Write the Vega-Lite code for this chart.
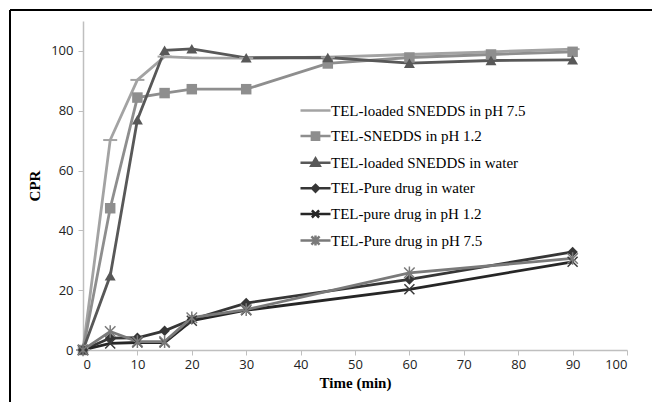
{
  "$schema": "https://vega.github.io/schema/vega-lite/v6.json",
  "autosize": "none",
  "width": 544,
  "height": 329,
  "padding": {"left": 83, "top": 21, "right": 25, "bottom": 52},
  "background": "white",
  "config": {"view": {"stroke": null}},
  "data": {"values": [
    {"series": "TEL-loaded SNEDDS in pH 7.5", "t": 0, "v": 0},
    {"series": "TEL-loaded SNEDDS in pH 7.5", "t": 5, "v": 70.2},
    {"series": "TEL-loaded SNEDDS in pH 7.5", "t": 10, "v": 90.3},
    {"series": "TEL-loaded SNEDDS in pH 7.5", "t": 15, "v": 98.1},
    {"series": "TEL-loaded SNEDDS in pH 7.5", "t": 20, "v": 97.7},
    {"series": "TEL-loaded SNEDDS in pH 7.5", "t": 30, "v": 97.6},
    {"series": "TEL-loaded SNEDDS in pH 7.5", "t": 45, "v": 97.9},
    {"series": "TEL-loaded SNEDDS in pH 7.5", "t": 60, "v": 98.8},
    {"series": "TEL-loaded SNEDDS in pH 7.5", "t": 75, "v": 99.7},
    {"series": "TEL-loaded SNEDDS in pH 7.5", "t": 90, "v": 100.6},
    {"series": "TEL-SNEDDS in pH 1.2", "t": 0, "v": 0},
    {"series": "TEL-SNEDDS in pH 1.2", "t": 5, "v": 47.4},
    {"series": "TEL-SNEDDS in pH 1.2", "t": 10, "v": 84.4},
    {"series": "TEL-SNEDDS in pH 1.2", "t": 15, "v": 85.9},
    {"series": "TEL-SNEDDS in pH 1.2", "t": 20, "v": 87.2},
    {"series": "TEL-SNEDDS in pH 1.2", "t": 30, "v": 87.2},
    {"series": "TEL-SNEDDS in pH 1.2", "t": 45, "v": 95.8},
    {"series": "TEL-SNEDDS in pH 1.2", "t": 60, "v": 97.8},
    {"series": "TEL-SNEDDS in pH 1.2", "t": 75, "v": 98.8},
    {"series": "TEL-SNEDDS in pH 1.2", "t": 90, "v": 99.7},
    {"series": "TEL-loaded SNEDDS in water", "t": 0, "v": 0},
    {"series": "TEL-loaded SNEDDS in water", "t": 5, "v": 24.8},
    {"series": "TEL-loaded SNEDDS in water", "t": 10, "v": 77},
    {"series": "TEL-loaded SNEDDS in water", "t": 15, "v": 100.2},
    {"series": "TEL-loaded SNEDDS in water", "t": 20, "v": 100.7},
    {"series": "TEL-loaded SNEDDS in water", "t": 30, "v": 97.7},
    {"series": "TEL-loaded SNEDDS in water", "t": 45, "v": 97.8},
    {"series": "TEL-loaded SNEDDS in water", "t": 60, "v": 95.9},
    {"series": "TEL-loaded SNEDDS in water", "t": 75, "v": 96.8},
    {"series": "TEL-loaded SNEDDS in water", "t": 90, "v": 97},
    {"series": "TEL-Pure drug in water", "t": 0, "v": 0},
    {"series": "TEL-Pure drug in water", "t": 5, "v": 4},
    {"series": "TEL-Pure drug in water", "t": 10, "v": 4.1},
    {"series": "TEL-Pure drug in water", "t": 15, "v": 6.4},
    {"series": "TEL-Pure drug in water", "t": 20, "v": 10.2},
    {"series": "TEL-Pure drug in water", "t": 30, "v": 15.7},
    {"series": "TEL-Pure drug in water", "t": 60, "v": 23.6},
    {"series": "TEL-Pure drug in water", "t": 90, "v": 32.8},
    {"series": "TEL-pure drug in pH 1.2", "t": 0, "v": 0},
    {"series": "TEL-pure drug in pH 1.2", "t": 5, "v": 2.2},
    {"series": "TEL-pure drug in pH 1.2", "t": 10, "v": 2.5},
    {"series": "TEL-pure drug in pH 1.2", "t": 15, "v": 2.5},
    {"series": "TEL-pure drug in pH 1.2", "t": 20, "v": 9.8},
    {"series": "TEL-pure drug in pH 1.2", "t": 30, "v": 13.3},
    {"series": "TEL-pure drug in pH 1.2", "t": 60, "v": 20.3},
    {"series": "TEL-pure drug in pH 1.2", "t": 90, "v": 29.5},
    {"series": "TEL-Pure drug in pH 7.5", "t": 0, "v": 0},
    {"series": "TEL-Pure drug in pH 7.5", "t": 5, "v": 6.2},
    {"series": "TEL-Pure drug in pH 7.5", "t": 10, "v": 2.8},
    {"series": "TEL-Pure drug in pH 7.5", "t": 15, "v": 2.8},
    {"series": "TEL-Pure drug in pH 7.5", "t": 20, "v": 10.8},
    {"series": "TEL-Pure drug in pH 7.5", "t": 30, "v": 13.5},
    {"series": "TEL-Pure drug in pH 7.5", "t": 60, "v": 25.8},
    {"series": "TEL-Pure drug in pH 7.5", "t": 90, "v": 30.6}
  ]},
  "encoding": {
    "x": {"field": "t", "type": "quantitative", "scale": {"domain": [0, 100], "nice": false},
      "axis": {"values": [0,10,20,30,40,50,60,70,80,90,100], "grid": false, "domainColor": "#bfbfbf", "domainWidth": 1.5, "tickColor": "#bfbfbf", "tickSize": 5, "labelFont": "Open Sans", "labelFontSize": 13, "labelColor": "#222222", "labelPadding": 3, "title": "Time (min)", "titleFont": "Liberation Serif", "titleFontSize": 15, "titleFontWeight": "bold", "titleColor": "black", "titlePadding": 4}},
    "y": {"field": "v", "type": "quantitative", "scale": {"domain": [0, 110], "nice": false},
      "axis": {"values": [0,20,40,60,80,100], "grid": false, "domainColor": "#bfbfbf", "domainWidth": 1.5, "tickColor": "#bfbfbf", "tickSize": 5, "labelFont": "Open Sans", "labelFontSize": 13, "labelColor": "#222222", "labelPadding": 5, "title": "CPR", "titleFont": "Liberation Serif", "titleFontSize": 15, "titleFontWeight": "bold", "titleColor": "black", "titlePadding": 8}}
  },
  "layer": [
    {
      "mark": {"type": "rule", "stroke": "black", "strokeWidth": 1.5, "clip": false},
      "encoding": {
        "x": {"datum": -13.4, "type": "quantitative"},
        "y": {"datum": 113.7, "type": "quantitative"},
        "y2": {"datum": -40}
      }
    },
    {
      "mark": {"type": "rule", "stroke": "black", "strokeWidth": 1.5, "clip": false},
      "encoding": {
        "x": {"datum": -13.4, "type": "quantitative"},
        "x2": {"datum": 130},
        "y": {"datum": 113.7, "type": "quantitative"}
      }
    },
    {
      "mark": {"type": "line", "strokeWidth": 2.8},
      "encoding": {
        "color": {"field": "series", "type": "nominal",
          "scale": {"domain": ["TEL-loaded SNEDDS in pH 7.5", "TEL-SNEDDS in pH 1.2", "TEL-loaded SNEDDS in water", "TEL-Pure drug in water", "TEL-pure drug in pH 1.2", "TEL-Pure drug in pH 7.5"],
                    "range": ["#a3a3a3", "#8e8e8e", "#585858", "#363636", "#262626", "#7a7a7a"]},
          "legend": {"orient": "none", "legendX": 219, "legendY": 76, "title": null, "labelFont": "Liberation Serif", "labelFontSize": 15, "labelColor": "black", "labelLimit": 400, "symbolSize": 576, "symbolStrokeWidth": 2.5, "labelOffset": 2, "rowPadding": 3.6,
            "encode": {"symbols": {"update": {
              "shape": {"signal": "datum.value === 'TEL-SNEDDS in pH 1.2' ? 'M-1.25,0L1.25,0M-0.3,-0.3H0.3V0.3H-0.3Z' : datum.value === 'TEL-loaded SNEDDS in water' ? 'M-1.25,0L1.25,0M0,-0.35L0.35,0.25L-0.35,0.25Z' : datum.value === 'TEL-Pure drug in water' ? 'M-1.25,0L1.25,0M0,-0.28L0.28,0L0,0.28L-0.28,0Z' : datum.value === 'TEL-pure drug in pH 1.2' ? 'M-1.25,0L1.25,0M-0.3,-0.3L0.3,0.3M-0.3,0.3L0.3,-0.3' : datum.value === 'TEL-Pure drug in pH 7.5' ? 'M-1.25,0L1.25,0M-0.34,-0.34L0.34,0.34M-0.34,0.34L0.34,-0.34M0,-0.42L0,0.42' : 'M-1.25,0L1.25,0'"},
              "fill": {"scale": "color", "field": "value"},
              "stroke": {"scale": "color", "field": "value"},
              "strokeWidth": {"value": 2.5},
              "opacity": {"value": 1}
            }}}}
        }
      }
    },
    {
      "transform": [{"filter": {"field": "series", "equal": "TEL-loaded SNEDDS in pH 7.5"}}],
      "mark": {"type": "point", "shape": "M-1,0L1,0", "filled": false, "size": 196, "strokeWidth": 2, "color": "#a3a3a3", "opacity": 1}
    },
    {
      "transform": [{"filter": {"field": "series", "equal": "TEL-SNEDDS in pH 1.2"}}],
      "mark": {"type": "point", "shape": "square", "filled": true, "size": 110, "color": "#8e8e8e", "opacity": 1}
    },
    {
      "transform": [{"filter": {"field": "series", "equal": "TEL-loaded SNEDDS in water"}}],
      "mark": {"type": "point", "shape": "triangle-up", "filled": true, "size": 120, "color": "#585858", "opacity": 1}
    },
    {
      "transform": [{"filter": {"field": "series", "equal": "TEL-Pure drug in water"}}],
      "mark": {"type": "point", "shape": "diamond", "filled": true, "size": 110, "color": "#363636", "opacity": 1}
    },
    {
      "transform": [{"filter": {"field": "series", "equal": "TEL-pure drug in pH 1.2"}}],
      "mark": {"type": "point", "shape": "M-1,-1L1,1M-1,1L1,-1", "filled": false, "size": 100, "strokeWidth": 1.5, "color": "#3a3a3a", "opacity": 1}
    },
    {
      "transform": [{"filter": {"field": "series", "equal": "TEL-Pure drug in pH 7.5"}}],
      "mark": {"type": "point", "shape": "M-1,-1L1,1M-1,1L1,-1M0,-1.2L0,1.2", "filled": false, "size": 110, "strokeWidth": 1.5, "color": "#7a7a7a", "opacity": 1}
    }
  ]
}
